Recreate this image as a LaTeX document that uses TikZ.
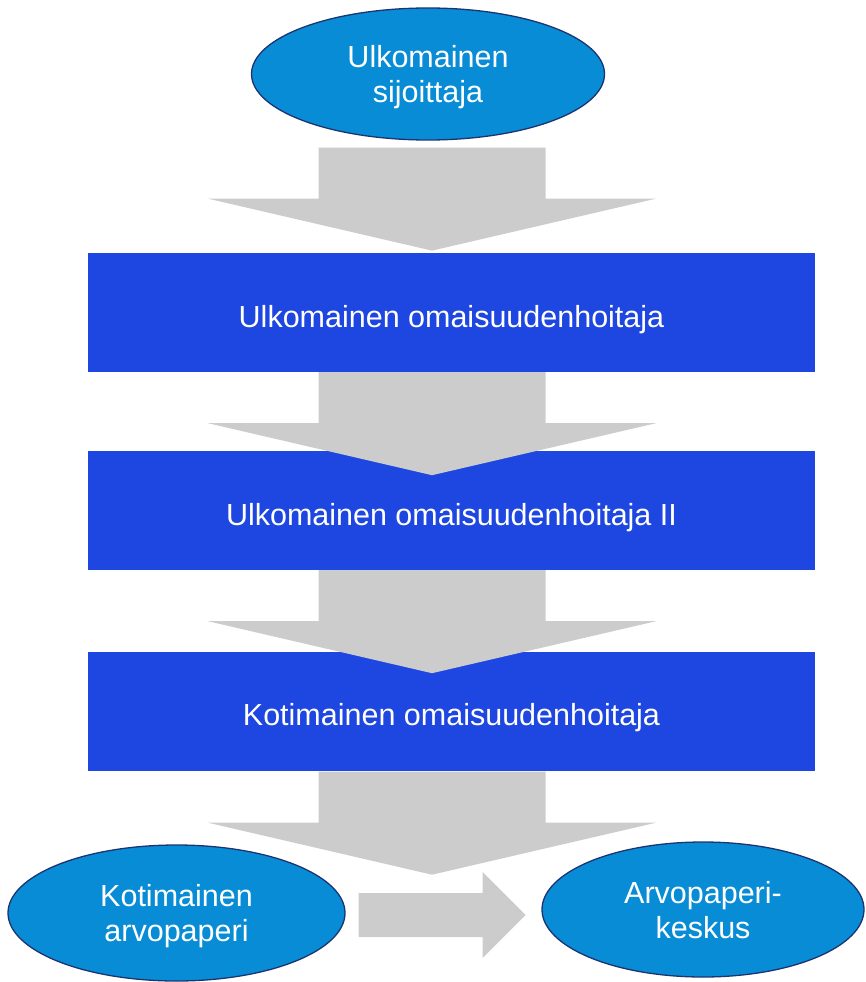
\documentclass[tikz,border=0pt]{standalone}
\usepackage{fontspec}
\setmainfont{Liberation Sans}
\usetikzlibrary{shapes.geometric,calc}
\definecolor{ovalblue}{RGB}{8,140,214}
\definecolor{ovalline}{RGB}{28,52,112}
\definecolor{boxblue}{RGB}{30,70,224}
\definecolor{flowgray}{RGB}{204,204,204}

\begin{document}
\begin{tikzpicture}[x=1pt,y=-1pt]
	\tikzstyle{ov}=[ellipse,draw=ovalline,line width=1.3pt,fill=ovalblue,text=white,inner sep=0pt,
		align=center,text depth=0pt,font=\fontsize{30.5}{35}\selectfont]
	\tikzstyle{bx}=[rectangle,fill=boxblue,text=white,minimum width=727,minimum height=119,inner sep=0pt,
		text height=29pt,text depth=0pt,font=\fontsize{30.5}{35}\selectfont]
	\tikzstyle{flow}=[fill=flowgray]
	\useasboundingbox (0,0) rectangle (865,982);
	\node[ov,minimum width=353,minimum height=132] (investor) at (428,74) {Ulkomainen\\sijoittaja};
	\node[bx] (custa) at (451.5,312.5) {Ulkomainen omaisuudenhoitaja};
	\node[bx] (custb) at (451.5,510.5) {Ulkomainen omaisuudenhoitaja II};
	\node[bx] (custc) at (451.5,711) {Kotimainen omaisuudenhoitaja};
	\node[ov,minimum width=337,minimum height=136] (security) at (176.5,913) {Kotimainen\\arvopaperi};
	\node[ov,minimum width=322,minimum height=135] (csd) at (703,909.5) {Arvopaperi-\\keskus};
	\coordinate (mid) at (432,0);
	\foreach \src/\gap in {investor/7,custa/0,custb/0,custc/1}
		\fill[flow] ($(\src.south -| mid)+(0,\gap)$) ++(-113.5,0) -- ++(227,0) -- ++(0,51) -- ++(110.5,0)
			-- ++(-224,52) -- ++(-224,-52) -- ++(110.5,0) -- cycle;
	\fill[flow] ($(security.east)+(13,-20)$) -- ++(124,0) -- ++(0,-21) -- ++(43,43) -- ++(-43,43)
		-- ++(0,-21) -- ++(-124,0) -- cycle;
\end{tikzpicture}
\end{document}
